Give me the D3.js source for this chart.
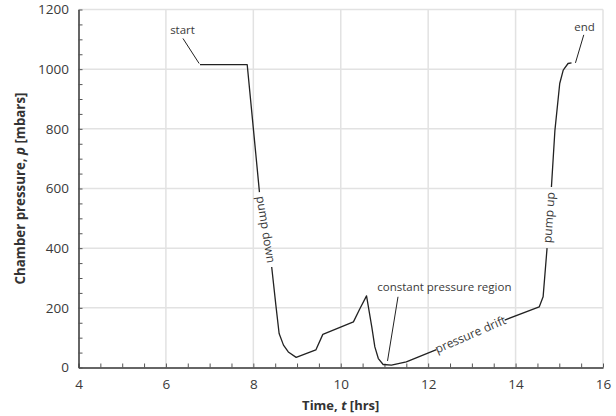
<!DOCTYPE html>
<html>
<head>
<meta charset="utf-8">
<script src="https://cdn.jsdelivr.net/npm/d3@7/dist/d3.min.js"></script>
<style>
  html, body { margin: 0; padding: 0; background: #fff; }
  svg { display: block; font-family: "Open Sans", "Noto Sans", sans-serif; }
</style>
</head>
<body>
<svg id="chart" width="616" height="416"></svg>
<script>
// ---- data ----
const timeHrs = [6.78, 7.86, 8.14, 8.42, 8.52, 8.59, 8.69, 8.80, 8.98, 9.43, 9.59, 10.29, 10.44, 10.59,
                 10.71, 10.78, 10.86, 10.97, 11.16, 11.50, 12.19, 13.75, 14.54, 14.63, 14.72, 14.82,
                 14.90, 15.01, 15.09, 15.20, 15.28];
const pressure = [1015, 1015, 588, 337, 203, 114, 75, 52, 34, 59, 111, 153, 198, 240,
                  136, 69, 30, 10, 8, 19, 60, 159, 203, 237, 400, 605,
                  795, 952, 997, 1019, 1021];
// segments (start time) where the curve is interrupted by an inline label
const inlineLabels = ["pump down", "pressure drift", "pump up"];
const inlineGapStart = [8.14, 12.19, 14.72];

// leader-line annotations
const noteText = ["start", "constant pressure region", "end"];
const noteTextT = [6.38, 12.37, 15.58];
const noteTextP = [1117, 256, 1128];
const leaderT1 = [6.39, 11.31, 15.37];
const leaderP1 = [1103, 237, 1021];
const leaderT2 = [6.76, 11.07, 15.56];
const leaderP2 = [1019, 22, 1115];

const xTicks = [4, 6, 8, 10, 12, 14, 16];
const yTicks = [0, 200, 400, 600, 800, 1000, 1200];

// ---- layout ----
const svg = d3.select("#chart");
const x = d3.scaleLinear().domain([4, 16]).range([78.5, 603]);
const y = d3.scaleLinear().domain([0, 1200]).range([367.5, 9.5]);
const textCol = "#3a3a3a";

// grid
const grid = svg.append("g");
grid.selectAll("line.vx").data(xTicks.slice(1)).join("line")
  .attr("x1", d => x(d)).attr("x2", d => x(d))
  .attr("y1", y(1200)).attr("y2", y(0))
  .attr("stroke", "#e2e2e2").attr("stroke-width", 1.5);
grid.selectAll("line.hy").data(yTicks.slice(1)).join("line")
  .attr("x1", x(4)).attr("x2", x(16))
  .attr("y1", d => y(d)).attr("y2", d => y(d))
  .attr("stroke", "#e2e2e2").attr("stroke-width", 1.5);

// axes
const xAxis = d3.axisBottom(x)
  .tickValues(d3.range(4, 16.001, 0.5))
  .tickSize(-4).tickSizeOuter(0).tickPadding(12)
  .tickFormat(d => (d % 2 === 0 ? d : ""));
const gx = svg.append("g").attr("transform", `translate(0,${y(0)})`).call(xAxis);

const yAxis = d3.axisLeft(y)
  .tickValues(d3.range(0, 1200.1, 50))
  .tickSize(-4).tickSizeOuter(0).tickPadding(9.5)
  .tickFormat(d => (d % 200 === 0 ? d : ""));
const gy = svg.append("g").attr("transform", `translate(${x(4)},0)`).call(yAxis);

[gx, gy].forEach(g => {
  g.select(".domain").attr("stroke", "#333").attr("stroke-width", 1.5);
  g.selectAll(".tick line").attr("stroke", "#555").attr("stroke-width", 1);
  g.selectAll(".tick text").attr("fill", textCol)
    .style("font-family", "'Open Sans', sans-serif").style("font-size", "13.5px");
});

// axis titles
const xt = svg.append("text")
  .attr("x", (x(4) + x(16)) / 2).attr("y", 410)
  .attr("text-anchor", "middle").attr("fill", "#333")
  .style("font-size", "13px").style("font-weight", "bold");
xt.append("tspan").text("Time, ");
xt.append("tspan").style("font-style", "italic").text("t");
xt.append("tspan").text(" [hrs]");

const yt = svg.append("text")
  .attr("transform", `translate(24.5,${(y(0) + y(1200)) / 2}) rotate(-90)`)
  .attr("text-anchor", "middle").attr("fill", "#333")
  .style("font-size", "13.3px").style("font-weight", "bold");
yt.append("tspan").text("Chamber pressure, ");
yt.append("tspan").style("font-style", "italic").text("p");
yt.append("tspan").text(" [mbars]");

// ---- curve, split at inline label gaps ----
const pts = timeHrs.map((t, i) => ({ t, p: pressure[i] }));
const runs = [];
let cur = [pts[0]];
for (let i = 1; i < pts.length; i++) {
  if (inlineGapStart.includes(pts[i - 1].t)) {
    runs.push(cur);
    cur = [pts[i]];
  } else {
    cur.push(pts[i]);
  }
}
runs.push(cur);

const line = d3.line().x(d => x(d.t)).y(d => y(d.p)).curve(d3.curveLinear);
svg.append("g").selectAll("path").data(runs).join("path")
  .attr("d", line)
  .attr("fill", "none").attr("stroke", "#222").attr("stroke-width", 1.3)
  .attr("stroke-linejoin", "round");

// inline labels placed in the gaps, rotated along the gap direction
inlineLabels.forEach((lab, k) => {
  const i = timeHrs.indexOf(inlineGapStart[k]);
  const a = pts[i], b = pts[i + 1];
  const x1 = x(a.t), y1 = y(a.p), x2 = x(b.t), y2 = y(b.p);
  const ang = Math.atan2(y2 - y1, x2 - x1) * 180 / Math.PI;
  svg.append("text")
    .attr("transform", `translate(${(x1 + x2) / 2},${(y1 + y2) / 2}) rotate(${ang})`)
    .attr("text-anchor", "middle").attr("dy", "0.32em")
    .attr("fill", textCol).style("font-size", "12px")
    .text(lab);
});

// leader lines + annotation text
noteText.forEach((lab, k) => {
  svg.append("line")
    .attr("x1", x(leaderT1[k])).attr("y1", y(leaderP1[k]))
    .attr("x2", x(leaderT2[k])).attr("y2", y(leaderP2[k]))
    .attr("stroke", "#222").attr("stroke-width", 1);
  svg.append("text")
    .attr("x", x(noteTextT[k])).attr("y", y(noteTextP[k]))
    .attr("text-anchor", "middle").attr("fill", textCol)
    .style("font-size", "11.5px")
    .text(lab);
});
</script>
</body>
</html>
